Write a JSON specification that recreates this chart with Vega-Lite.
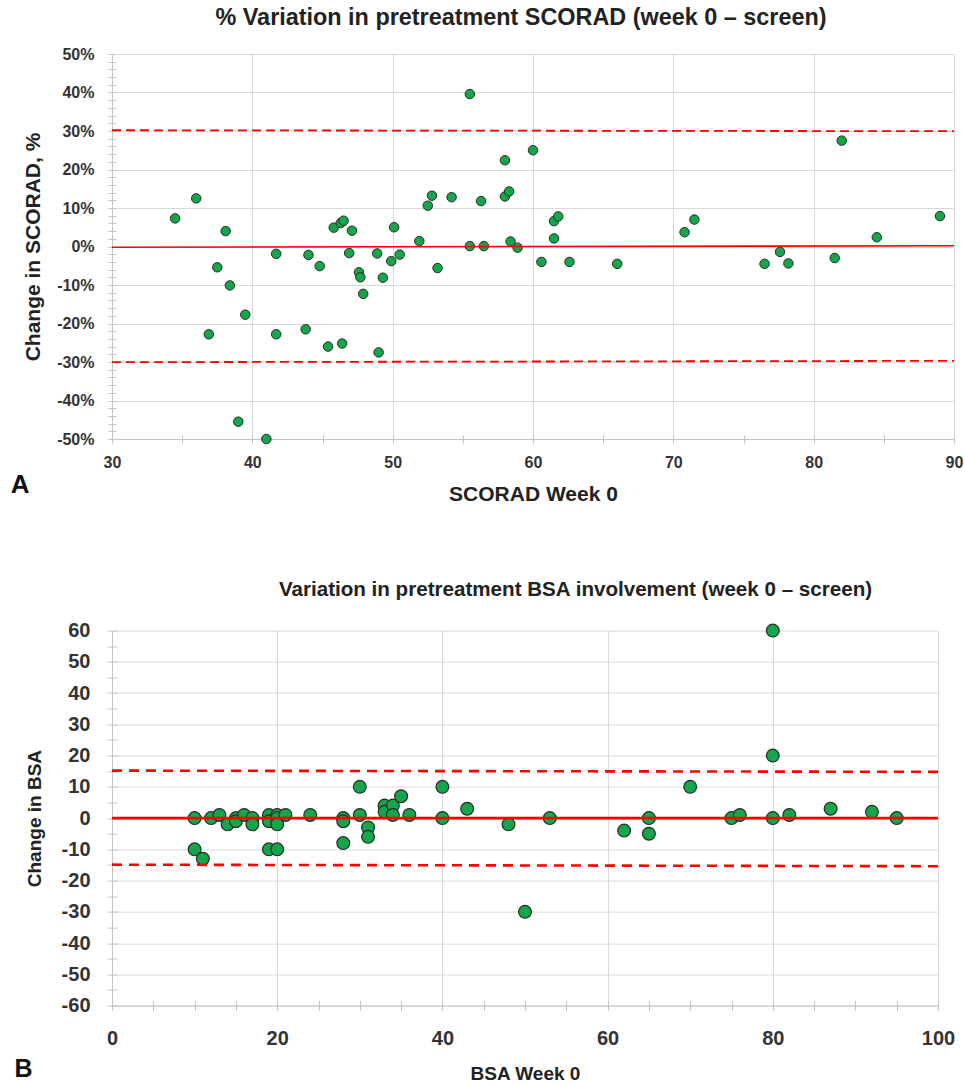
{
  "$schema": "https://vega.github.io/schema/vega-lite/v6.json",
  "background": "white",
  "padding": {"left": 10, "top": 5, "right": 0, "bottom": 2},
  "config": {
    "font": "Liberation Sans",
    "view": {"stroke": null},
    "axis": {
      "labelFont": "Liberation Sans",
      "titleFont": "Liberation Sans",
      "labelFontWeight": "bold",
      "titleFontWeight": "bold",
      "labelColor": "#333333",
      "titleColor": "#222222",
      "gridColor": "#d9d9d9",
      "domainColor": "#c4c4c4",
      "tickColor": "#c4c4c4",
      "labelFlush": false
    },
    "title": {"font": "Liberation Sans", "fontWeight": "bold", "color": "#222222"}
  },
  "spacing": 75.6,
  "vconcat": [
    {
      "title": {"text": "A", "orient": "bottom", "anchor": "start", "fontSize": 26, "offset": -32, "dx": -12, "color": "#111111"},
      "vconcat": [
        {
          "width": 842,
          "height": 385,
          "title": {"text": "% Variation in pretreatment SCORAD (week 0 – screen)", "fontSize": 23.4, "offset": 15.7, "anchor": "middle", "frame": "group", "dx": -12},
          "resolve": {"axis": {"x": "independent", "y": "independent"}},
          "layer": [
            {
              "data": {"values": [
                {"scorad": 34.5, "change": 7.3}, {"scorad": 36.0, "change": 12.5}, {"scorad": 38.1, "change": 4.0},
                {"scorad": 37.5, "change": -5.4}, {"scorad": 38.4, "change": -10.1}, {"scorad": 39.5, "change": -17.7},
                {"scorad": 36.9, "change": -22.8}, {"scorad": 39.0, "change": -45.5}, {"scorad": 41.0, "change": -50.0},
                {"scorad": 41.7, "change": -1.9}, {"scorad": 41.7, "change": -22.8}, {"scorad": 44.0, "change": -2.2},
                {"scorad": 43.8, "change": -21.5}, {"scorad": 44.8, "change": -5.1}, {"scorad": 45.4, "change": -26.0},
                {"scorad": 45.8, "change": 4.9}, {"scorad": 46.3, "change": 6.1}, {"scorad": 46.5, "change": 6.7},
                {"scorad": 46.4, "change": -25.2}, {"scorad": 47.1, "change": 4.1}, {"scorad": 46.9, "change": -1.7},
                {"scorad": 47.6, "change": -6.7}, {"scorad": 47.7, "change": -8.0}, {"scorad": 47.9, "change": -12.3},
                {"scorad": 48.9, "change": -1.8}, {"scorad": 49.3, "change": -8.1}, {"scorad": 49.0, "change": -27.5},
                {"scorad": 49.9, "change": -3.8}, {"scorad": 50.1, "change": 5.0}, {"scorad": 50.5, "change": -2.1},
                {"scorad": 51.9, "change": 1.4}, {"scorad": 52.5, "change": 10.6}, {"scorad": 52.8, "change": 13.2},
                {"scorad": 53.2, "change": -5.6}, {"scorad": 54.2, "change": 12.8}, {"scorad": 55.5, "change": 39.6},
                {"scorad": 55.5, "change": 0.1}, {"scorad": 56.3, "change": 11.8}, {"scorad": 56.5, "change": 0.1},
                {"scorad": 58.0, "change": 22.4}, {"scorad": 58.0, "change": 13.0}, {"scorad": 58.3, "change": 14.3},
                {"scorad": 58.4, "change": 1.3}, {"scorad": 58.9, "change": -0.3}, {"scorad": 60.0, "change": 25.0},
                {"scorad": 61.5, "change": 6.6}, {"scorad": 61.8, "change": 7.8}, {"scorad": 61.5, "change": 2.1},
                {"scorad": 60.6, "change": -4.0}, {"scorad": 62.6, "change": -4.0}, {"scorad": 66.0, "change": -4.5},
                {"scorad": 70.8, "change": 3.7}, {"scorad": 71.5, "change": 7.0}, {"scorad": 76.5, "change": -4.5},
                {"scorad": 77.6, "change": -1.4}, {"scorad": 78.2, "change": -4.4}, {"scorad": 81.5, "change": -3.0},
                {"scorad": 82.0, "change": 27.5}, {"scorad": 84.5, "change": 2.4}, {"scorad": 89.0, "change": 7.9}
              ]},
              "mark": {"type": "point", "shape": "circle", "filled": true, "fill": "#14a64a", "stroke": "#2a2a2a", "strokeWidth": 1, "size": 90, "opacity": 1},
              "encoding": {
                "x": {"field": "scorad", "type": "quantitative",
                  "scale": {"domain": [30, 90], "nice": false, "zero": false},
                  "axis": {"orient": "bottom", "values": [30, 40, 50, 60, 70, 80, 90], "grid": true, "ticks": false, "domain": true,
                    "labelFontSize": 16, "labelPadding": 15, "title": "SCORAD Week 0", "titleFontSize": 21, "titlePadding": 13}},
                "y": {"field": "change", "type": "quantitative",
                  "scale": {"domain": [-50, 50], "nice": false, "zero": false},
                  "axis": {"orient": "left", "values": [-50, -40, -30, -20, -10, 0, 10, 20, 30, 40, 50], "labelExpr": "datum.value + '%'",
                    "grid": true, "ticks": false, "domain": true, "labelFontSize": 16, "labelPadding": 18,
                    "title": "Change in SCORAD, %", "titleFontSize": 21, "titlePadding": 13}}
              }
            },
            {
              "data": {"values": [
                {"scorad": 30, "change": -0.2, "line": "mean"}, {"scorad": 90, "change": 0.2, "line": "mean"}
              ]},
              "mark": {"type": "line", "color": "#ff0000", "strokeWidth": 1.6},
              "encoding": {
                "x": {"field": "scorad", "type": "quantitative",
                  "axis": {"orient": "bottom", "values": [30, 35, 40, 45, 50, 55, 60, 65, 70, 75, 80, 85, 90], "grid": false, "labels": false, "domain": false,
                    "ticks": true, "tickSize": 8, "offset": -4, "title": null}},
                "y": {"field": "change", "type": "quantitative",
                  "axis": {"orient": "left", "values": [-50, -48, -46, -44, -42, -40, -38, -36, -34, -32, -30, -28, -26, -24, -22, -20, -18, -16, -14, -12, -10, -8, -6, -4, -2, 0, 2, 4, 6, 8, 10, 12, 14, 16, 18, 20, 22, 24, 26, 28, 30, 32, 34, 36, 38, 40, 42, 44, 46, 48, 50],
                    "grid": false, "labels": false, "domain": false, "ticks": true, "tickSize": 8, "offset": -4, "title": null}},
                "detail": {"field": "line"}
              }
            },
            {
              "data": {"values": [
                {"scorad": 30, "change": 30.2, "line": "upper"}, {"scorad": 90, "change": 29.95, "line": "upper"},
                {"scorad": 30, "change": -30.05, "line": "lower"}, {"scorad": 90, "change": -29.7, "line": "lower"}
              ]},
              "mark": {"type": "line", "color": "#ff0000", "strokeWidth": 1.8, "strokeDash": [9, 5]},
              "encoding": {
                "x": {"field": "scorad", "type": "quantitative", "axis": null},
                "y": {"field": "change", "type": "quantitative", "axis": null},
                "detail": {"field": "line"}
              }
            }
          ]
        }
      ]
    },
    {
      "title": {"text": "B", "orient": "bottom", "anchor": "start", "fontSize": 25, "offset": -27, "dx": -10.5, "color": "#111111"},
      "vconcat": [
        {
          "width": 826,
          "height": 375,
          "title": {"text": "Variation in pretreatment BSA involvement (week 0 – screen)", "fontSize": 20.6, "offset": 20, "anchor": "middle", "frame": "group", "dx": 50.5},
          "resolve": {"axis": {"x": "independent", "y": "independent"}},
          "layer": [
            {
              "data": {"values": [
                {"bsa": 10, "change": 0}, {"bsa": 10, "change": -10}, {"bsa": 11, "change": -13}, {"bsa": 12, "change": 0},
                {"bsa": 13, "change": 1}, {"bsa": 14, "change": -2}, {"bsa": 15, "change": 0}, {"bsa": 15, "change": -1},
                {"bsa": 16, "change": 1}, {"bsa": 17, "change": 0}, {"bsa": 17, "change": -2}, {"bsa": 19, "change": 1},
                {"bsa": 19, "change": -1}, {"bsa": 19, "change": -10}, {"bsa": 20, "change": 1}, {"bsa": 20, "change": 0},
                {"bsa": 20, "change": -2}, {"bsa": 20, "change": -10}, {"bsa": 21, "change": 1}, {"bsa": 24, "change": 1},
                {"bsa": 28, "change": 0}, {"bsa": 28, "change": -1}, {"bsa": 28, "change": -8}, {"bsa": 30, "change": 10},
                {"bsa": 30, "change": 1}, {"bsa": 31, "change": -3}, {"bsa": 31, "change": -6}, {"bsa": 33, "change": 4},
                {"bsa": 33, "change": 2}, {"bsa": 34, "change": 4}, {"bsa": 34, "change": 1}, {"bsa": 35, "change": 7},
                {"bsa": 36, "change": 1}, {"bsa": 40, "change": 10}, {"bsa": 40, "change": 0}, {"bsa": 43, "change": 3},
                {"bsa": 48, "change": -2}, {"bsa": 50, "change": -30}, {"bsa": 53, "change": 0}, {"bsa": 62, "change": -4},
                {"bsa": 65, "change": 0}, {"bsa": 65, "change": -5}, {"bsa": 70, "change": 10}, {"bsa": 75, "change": 0},
                {"bsa": 76, "change": 1}, {"bsa": 80, "change": 60}, {"bsa": 80, "change": 20}, {"bsa": 80, "change": 0},
                {"bsa": 82, "change": 1}, {"bsa": 87, "change": 3}, {"bsa": 92, "change": 2}, {"bsa": 95, "change": 0}
              ]},
              "mark": {"type": "point", "shape": "circle", "filled": true, "fill": "#14a64a", "stroke": "#2a2a2a", "strokeWidth": 1.2, "size": 165, "opacity": 1},
              "encoding": {
                "x": {"field": "bsa", "type": "quantitative",
                  "scale": {"domain": [0, 100], "nice": false},
                  "axis": {"orient": "bottom", "values": [0, 20, 40, 60, 80, 100], "grid": true, "ticks": false, "domain": true,
                    "labelFontSize": 20, "labelPadding": 23, "title": "BSA Week 0", "titleFontSize": 19, "titlePadding": 16}},
                "y": {"field": "change", "type": "quantitative",
                  "scale": {"domain": [-60, 60], "nice": false, "zero": false},
                  "axis": {"orient": "left", "values": [-60, -50, -40, -30, -20, -10, 0, 10, 20, 30, 40, 50, 60], "labelExpr": "'' + datum.value",
                    "grid": true, "ticks": false, "domain": true, "labelFontSize": 20, "labelPadding": 22,
                    "title": "Change in BSA", "titleFontSize": 19, "titlePadding": 17}}
              }
            },
            {
              "data": {"values": [
                {"bsa": 0, "change": 0, "line": "mean"}, {"bsa": 100, "change": 0, "line": "mean"}
              ]},
              "mark": {"type": "line", "color": "#ff0000", "strokeWidth": 2.6},
              "encoding": {
                "x": {"field": "bsa", "type": "quantitative",
                  "axis": {"orient": "bottom", "values": [0, 5, 10, 15, 20, 25, 30, 35, 40, 45, 50, 55, 60, 65, 70, 75, 80, 85, 90, 95, 100], "grid": false, "labels": false, "domain": false,
                    "ticks": true, "tickSize": 10, "offset": -5, "title": null}},
                "y": {"field": "change", "type": "quantitative",
                  "axis": {"orient": "left", "values": [-60, -55, -50, -45, -40, -35, -30, -25, -20, -15, -10, -5, 0, 5, 10, 15, 20, 25, 30, 35, 40, 45, 50, 55, 60],
                    "grid": false, "labels": false, "domain": false, "ticks": true, "tickSize": 10, "offset": -5, "title": null}},
                "detail": {"field": "line"}
              }
            },
            {
              "data": {"values": [
                {"bsa": 0, "change": 15.2, "line": "upper"}, {"bsa": 100, "change": 14.8, "line": "upper"},
                {"bsa": 0, "change": -14.9, "line": "lower"}, {"bsa": 100, "change": -15.4, "line": "lower"}
              ]},
              "mark": {"type": "line", "color": "#ff0000", "strokeWidth": 2.6, "strokeDash": [10, 7]},
              "encoding": {
                "x": {"field": "bsa", "type": "quantitative", "axis": null},
                "y": {"field": "change", "type": "quantitative", "axis": null},
                "detail": {"field": "line"}
              }
            }
          ]
        }
      ]
    }
  ]
}
